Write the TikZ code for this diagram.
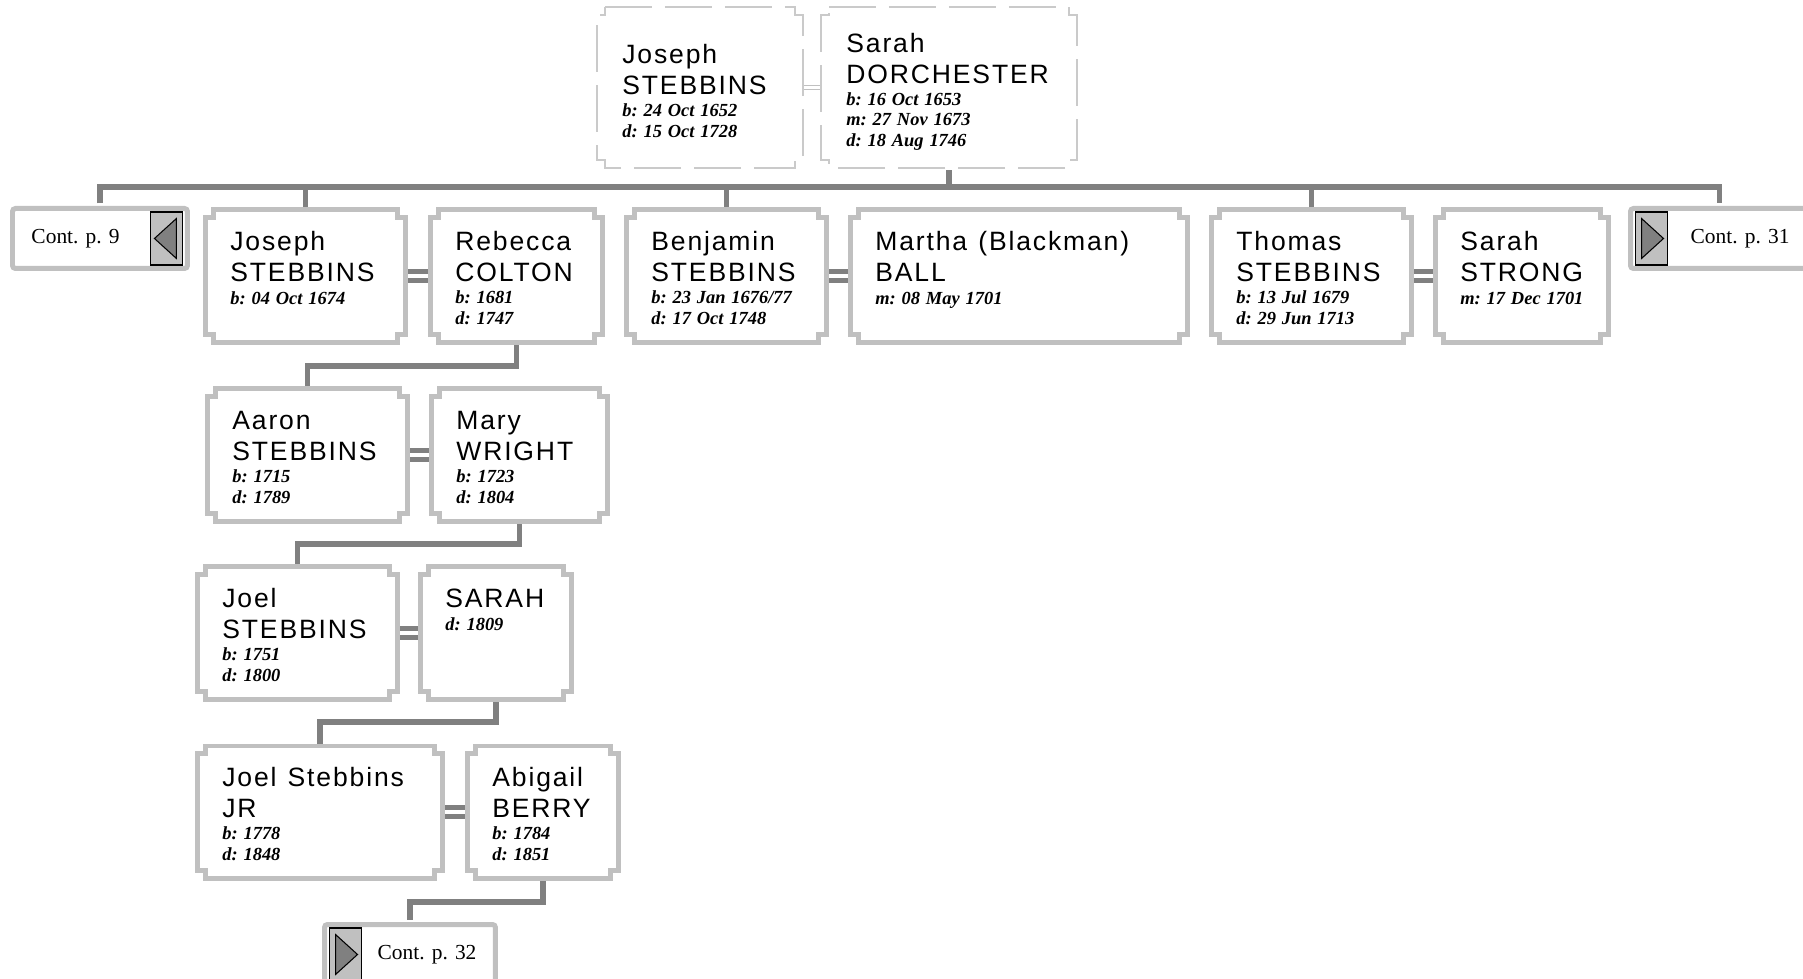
\documentclass[tikz,border=0pt]{standalone}
\usepackage{fontspec}
\usepackage{tikz}
\usetikzlibrary{positioning}

\newfontfamily\namefam{Liberation Sans}[LetterSpace=7]
\newfontfamily\datefam{Liberation Serif}
\newcommand{\nm}{\namefam\fontsize{15.1}{17.6}\selectfont}
\newcommand{\dt}{\datefam\bfseries\itshape\fontsize{10.5}{11.4}\selectfont}
\newcommand{\who}[1]{{\nm #1\par}\vspace{1.4pt}\dt}
\newcommand{\gap}{\hspace{0.42em}}
\newcommand{\nsz}{0.16cm}
\frenchspacing

\definecolor{boxgray}{HTML}{C0C0C0}
\definecolor{linegray}{HTML}{808080}
\definecolor{dashgray}{HTML}{CACACA}

\tikzset{
  person/.style={anchor=north west, align=left, inner xsep=0.5cm, inner ysep=0pt,
    text height=0.8cm, text depth=1.84cm},
  ancestor/.style={anchor=north west, align=left, inner xsep=0.5cm, inner ysep=0pt},
  cont/.style={anchor=north west, draw=boxgray, fill=white, line width=0.1cm,
    rounded corners=0.06cm, minimum height=1.2cm, inner xsep=0.38cm, inner ysep=0pt,
    font=\datefam\fontsize{12.2}{14}\selectfont},
  arrowbox/.style={draw=black, fill=boxgray, line width=0.6pt, minimum width=0.64cm,
    minimum height=1.06cm, inner sep=0pt},
  backarrow/.style={arrowbox, path picture={
    \draw[fill=linegray, line width=0.6pt] ([xshift=0.08cm]path picture bounding box.west)
      -- ([xshift=-0.12cm, yshift=0.4cm]path picture bounding box.east)
      -- ([xshift=-0.12cm, yshift=-0.4cm]path picture bounding box.east) -- cycle;}},
  fwdarrow/.style={arrowbox, path picture={
    \draw[fill=linegray, line width=0.6pt] ([xshift=-0.08cm]path picture bounding box.east)
      -- ([xshift=0.12cm, yshift=0.4cm]path picture bounding box.west)
      -- ([xshift=0.12cm, yshift=-0.4cm]path picture bounding box.west) -- cycle;}},
  conn/.style={draw=linegray, line width=0.11cm, shorten <=0.05cm, shorten >=0.05cm},
  solidbox/.style={draw=boxgray, line width=0.1cm},
  dashbox/.style={draw=dashgray, line width=0.04cm, dash pattern=on 0.94cm off 0.26cm},
}

\begin{document}
\begin{tikzpicture}[x=0.02cm, y=-0.02cm]
  \path[use as bounding box, clip] (0,0) rectangle (1803,979);

  % first couple
  \begin{scope}[every node/.style={ancestor}]
    \node[text width=3.1cm, text height=1.12cm, text depth=2.08cm] (jsA) at (597,7)
      {\who{Joseph\\STEBBINS} b: 24 Oct 1652\\d: 15 Oct 1728};
    \node[text width=4.1cm, text height=0.9cm, text depth=2.3cm] (sdA) at (821,7)
      {\who{Sarah\\DORCHESTER} b: 16 Oct 1653\\m: 27 Nov 1673\\d: 18 Aug 1746};
  \end{scope}

  % children and descendants
  \begin{scope}[every node/.style={person}]
    \node[text width=3.0cm] (js1) at (205,210) {\who{Joseph\\STEBBINS} b:~04~Oct~1674};
    \node[text width=2.44cm] (rc) at (430,210) {\who{Rebecca\\COLTON} b: 1681\\d: 1747};
    \node[text width=3.0cm] (bs) at (626,210) {\who{Benjamin\\STEBBINS} b:~23~Jan~1676/77\\d:~17~Oct~1748};
    \node[text width=5.74cm] (mb) at (850,210) {\who{Martha\gap(Blackman)\\BALL} m:~08~May~1701};
    \node[text width=3.0cm] (ts) at (1211,210) {\who{Thomas\\STEBBINS} b:~13~Jul~1679\\d:~29~Jun~1713};
    \node[text width=2.46cm] (ss) at (1435,210) {\who{Sarah\\STRONG} m:~17~Dec~1701};
    \node[text width=3.0cm] (as) at (207,389) {\who{Aaron\\STEBBINS} b: 1715\\d: 1789};
    \node[text width=2.52cm] (mw) at (431,389) {\who{Mary\\WRIGHT} b: 1723\\d: 1804};
    \node[text width=3.0cm] (jo) at (197,567) {\who{Joel\\STEBBINS} b: 1751\\d: 1800};
    \node[text width=2.02cm] (sa) at (420,567) {\who{SARAH} d: 1809};
    \node[text width=3.9cm] (jj) at (197,746) {\who{Joel\gap Stebbins\\JR} b: 1778\\d: 1848};
    \node[text width=2.02cm] (ab) at (467,746) {\who{Abigail\\BERRY} b: 1784\\d: 1851};
  \end{scope}

  % continuation boxes
  \node[cont, text width=2.74cm, align=left] (c9) at (10,206) {Cont. p. 9};
  \node[cont, text width=2.8cm, align=right] (c31) at (1628,206) {Cont. p. 31};
  \node[cont, text width=2.66cm, align=right] (c32) at (322,922) {Cont. p. 32};
  \node[backarrow, left=0.14cm of c9.east] (c9a) {};
  \node[fwdarrow, right=0.14cm of c31.west] (c31a) {};
  \node[fwdarrow, right=0.14cm of c32.west] (c32a) {};

  % lines of descent
  \draw[conn] (sdA.south) -- (sdA.south |- 0,187);
  \draw[conn] (c9.north) -- (c9.north |- 0,187) -- (c31.north |- 0,187) -- (c31.north);
  \foreach \n in {js1,bs,ts}
    \draw[conn] (\n.north) -- (\n.north |- 0,187);
  \draw[conn] (rc.south) -- (rc.south |- 0,366) -| (as.north);
  \draw[conn] (mw.south) -- (mw.south |- 0,544) -| (jo.north);
  \draw[conn] (sa.south) -- (sa.south |- 0,722) -| (jj.north);
  \draw[conn] (ab.south) -- (ab.south |- 0,902) -| (c32.north);

  % marriages
  \begin{scope}[every edge/.style={draw=linegray, double=white, line width=0.1cm, double distance=0.08cm}]
    \path (js1) edge (rc) (bs) edge (mb) (ts) edge (ss);
    \path (as) edge (mw) (jo) edge (sa) (jj) edge (ab);
  \end{scope}
  \path (jsA) edge[draw=boxgray, double=white, line width=0.025cm, double distance=0.06cm] (sdA);

  % notched frames
  \foreach \n/\s in {jsA/dashbox,sdA/dashbox,js1/solidbox,rc/solidbox,bs/solidbox,mb/solidbox,
      ts/solidbox,ss/solidbox,as/solidbox,mw/solidbox,jo/solidbox,sa/solidbox,jj/solidbox,ab/solidbox}
    \draw[\s] ([xshift=\nsz]\n.north west) -- ([xshift=-\nsz]\n.north east) -- ++(0pt,-\nsz)
      -- ++(\nsz,0pt) -- ([yshift=\nsz]\n.south east) -- ++(-\nsz,0pt) -- ++(0pt,-\nsz)
      -- ([xshift=\nsz]\n.south west) -- ++(0pt,\nsz) -- ++(-\nsz,0pt)
      -- ([yshift=-\nsz]\n.north west) -- ++(\nsz,0pt) -- cycle;
\end{tikzpicture}
\end{document}
